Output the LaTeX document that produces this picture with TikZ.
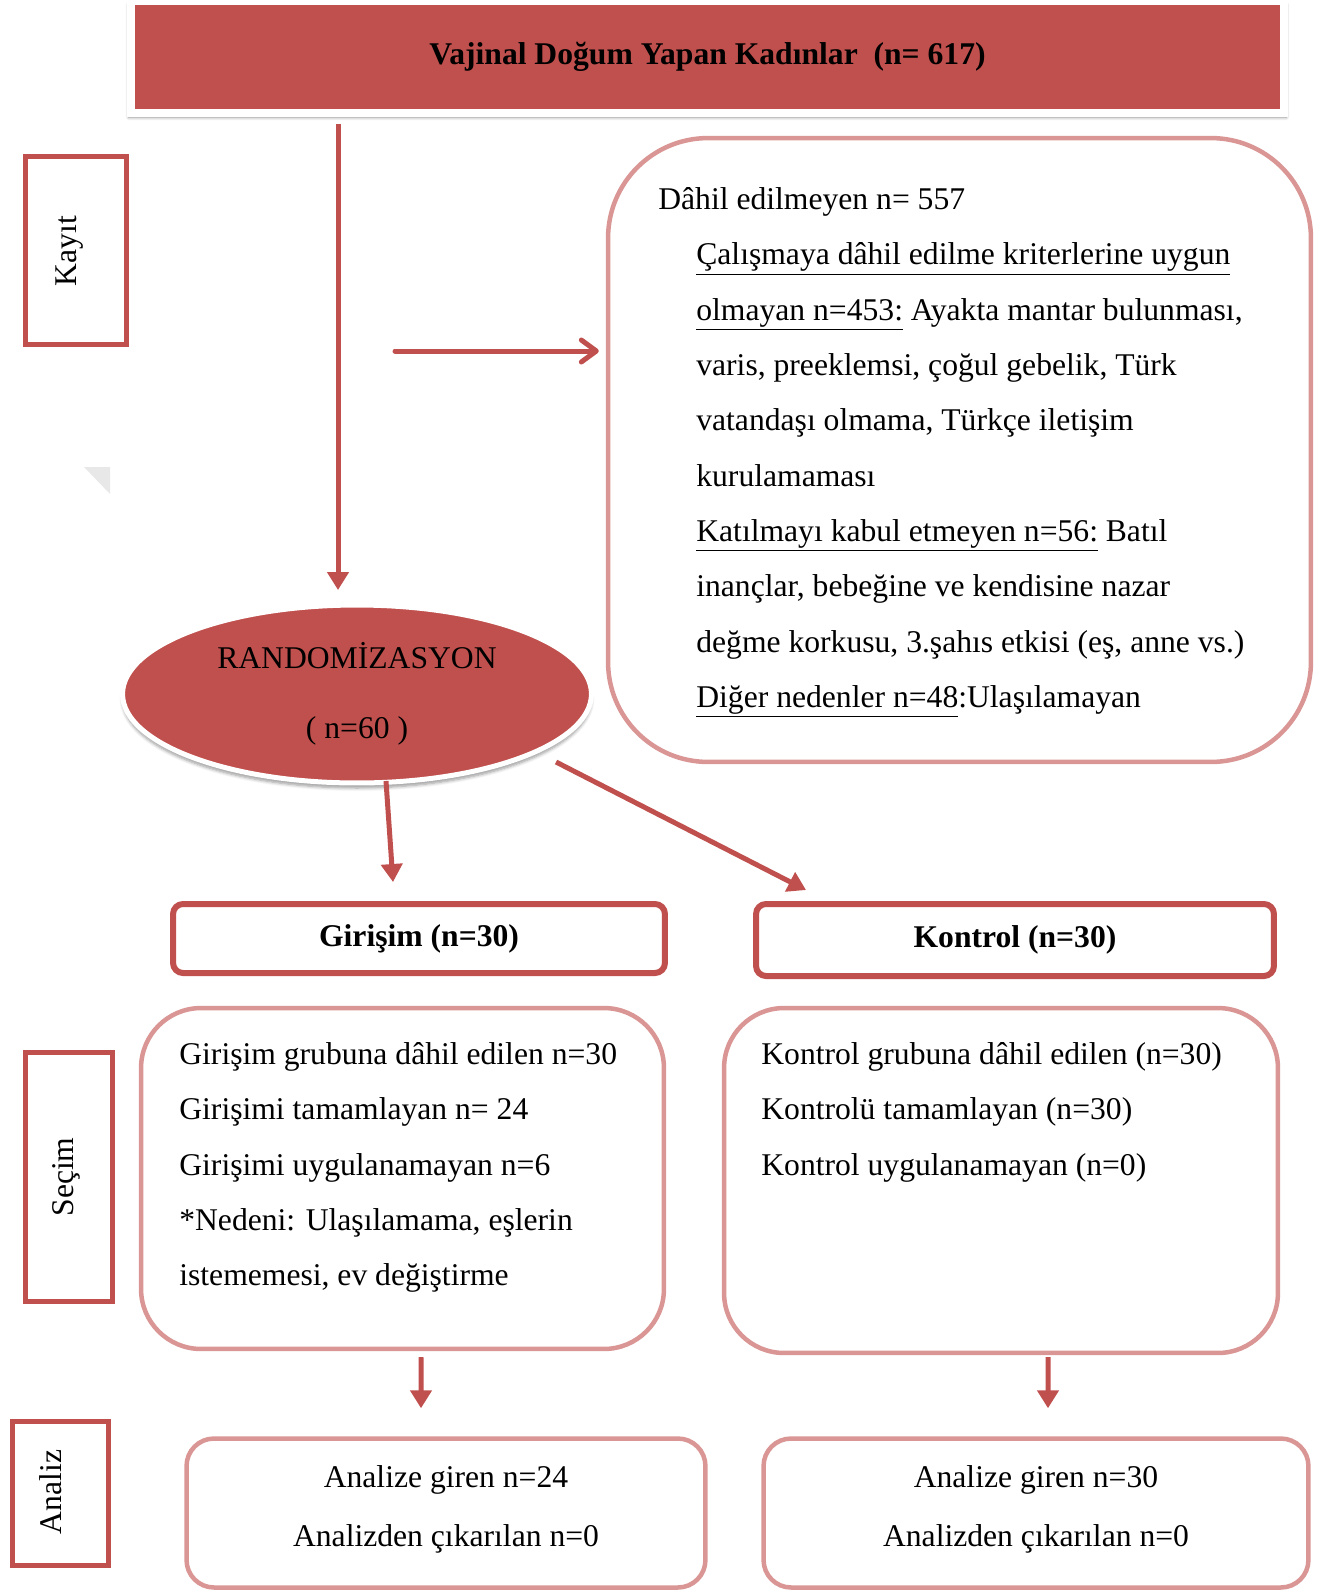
\documentclass[tikz,border=0pt]{standalone}
\usepackage{fontspec}
\setmainfont{Liberation Serif}
\usepackage{xcolor}
\usetikzlibrary{arrows.meta,shapes.geometric,shadows.blur}
\definecolor{accred}{HTML}{C0504D}
\definecolor{accpink}{HTML}{D99694}
\tikzset{
	txt/.style={font=\fontsize{18}{31.5}\selectfont},
	sidebox/.style={draw=accred, line width=0.1cm, inner sep=0pt},
	groupbox/.style={draw=accred, line width=0.12cm, rounded corners=0.2cm, inner sep=0pt, txt, font=\fontsize{18}{31.5}\selectfont\bfseries},
	infobox/.style={draw=accpink, line width=0.09cm, inner sep=0pt},
	arr/.style={draw=accred, line width=0.1cm, -{Triangle[width=0.42cm,length=0.36cm]}},
	openarr/.style={draw=accred, line width=0.1cm, line cap=round, -{Straight Barb[width=0.44cm,length=0.3cm,round]}}
}

\begin{document}
\begin{tikzpicture}[x=0.02cm, y=-0.02cm]
			\useasboundingbox (0,0) rectangle (1320,1593);
			\fill[gray!18] (84,467) -- (110,467) -- (110,494) -- cycle;

			% kayit
			\node[fill=accred, draw=white, line width=0.16cm, minimum width=23.06cm, minimum height=2.24cm, inner sep=0pt,
				blur shadow={shadow xshift=0pt, shadow yshift=-0.08cm, shadow scale=1.004, shadow opacity=45, shadow blur steps=6}, txt, font=\fontsize{18}{22}\selectfont\bfseries]
				(title) at (707.5,57) {Vajinal Doğum Yapan Kadınlar~~(n= 617)};
			\node[sidebox, minimum width=2.02cm, minimum height=3.76cm] (kayit) at (76,250.5) {};
			\node[txt, rotate=90] (kayittxt) at (70,251) {Kayıt};
			\node[infobox, rounded corners=2cm, minimum width=14.06cm, minimum height=12.48cm] (excl) at (959.5,450) {};
			\node[txt, anchor=north west, align=left, inner sep=0pt] (excltxt) at (658,187) {Dâhil edilmeyen n= 557\\
				\hspace*{0.76cm}\underline{Çalışmaya dâhil edilme kriterlerine uygun}\\
				\hspace*{0.76cm}\underline{olmayan n=453:} Ayakta mantar bulunması,\\
				\hspace*{0.76cm}varis, preeklemsi, çoğul gebelik, Türk\\
				\hspace*{0.76cm}vatandaşı olmama, Türkçe iletişim\\
				\hspace*{0.76cm}kurulamaması\\
				\hspace*{0.76cm}\underline{Katılmayı kabul etmeyen n=56:} Batıl\\
				\hspace*{0.76cm}inançlar, bebeğine ve kendisine nazar\\
				\hspace*{0.76cm}değme korkusu, 3.şahıs etkisi (eş, anne vs.)\\
				\hspace*{0.76cm}\underline{Diğer nedenler n=48}:Ulaşılamayan};

			\node[ellipse, fill=accred, draw=white, line width=0.1cm, minimum width=9.38cm, minimum height=3.56cm, inner sep=0pt,
				blur shadow={shadow xshift=0pt, shadow yshift=-0.1cm, shadow blur steps=6}, align=center, font=\fontsize{18}{40}\selectfont]
				(rand) at (357,694) {RANDOMİZASYON\\( n=60 )};

			\draw[arr] ([xshift=-0.38cm,yshift=-0.14cm]title.south -| rand.north) -- ([xshift=-0.38cm,yshift=0.25cm]rand.north);
			\coordinate (exclin) at (395,351);
			\draw[openarr, shorten >=0.14cm] (exclin) -- (exclin -| excl.west);

			% secim
			\node[groupbox, minimum width=9.84cm, minimum height=1.38cm] (giris) at (419,938.5) {Girişim (n=30)};
			\node[groupbox, minimum width=10.36cm, minimum height=1.44cm] (kontrol) at (1015,940) {Kontrol (n=30)};
			\draw[arr] ([xshift=0.58cm,yshift=0.09cm]rand.south) -- ([xshift=-0.52cm,yshift=0.38cm]giris.north);
			\draw[arr, shorten <=0.4cm] (rand.-18) -- ([xshift=1.06cm,yshift=0.22cm]kontrol.north west);

			\node[sidebox, minimum width=1.74cm, minimum height=4.98cm] (secim) at (69,1177) {};
			\node[txt, rotate=90] (secimtxt) at (66,1177) {Seçim};
			\node[infobox, rounded corners=1.2cm, minimum width=10.46cm, minimum height=6.82cm] (gdet) at (402.5,1178.5) {};
			\node[infobox, rounded corners=1.2cm, minimum width=11.08cm, minimum height=6.9cm] (kdet) at (1001,1180.5) {};
			\node[txt, anchor=north west, align=left, inner sep=0pt] (gdettxt) at (179,1042) {Girişim grubuna dâhil edilen n=30\\
				Girişimi tamamlayan n= 24\\
				Girişimi uygulanamayan n=6\\
				*Nedeni: Ulaşılamama, eşlerin\\
				istememesi, ev değiştirme};
			\node[txt, anchor=north west, align=left, inner sep=0pt] (kdettxt) at (761,1042) {Kontrol grubuna dâhil edilen (n=30)\\
				Kontrolü tamamlayan (n=30)\\
				Kontrol uygulanamayan (n=0)};

			% analiz
			\node[sidebox, minimum width=1.92cm, minimum height=2.88cm] (analiz) at (60.5,1493.5) {};
			\node[txt, rotate=90] (analiztxt) at (51,1492) {Analiz};
			\node[infobox, rounded corners=0.55cm, minimum width=10.38cm, minimum height=2.98cm] (ganl) at (446,1513) {};
			\node[infobox, rounded corners=0.55cm, minimum width=10.9cm, minimum height=2.98cm] (kanl) at (1036,1513) {};
			\node[align=center, font=\fontsize{18}{33.5}\selectfont] (ganltxt) at (446,1509) {Analize giren n=24\\Analizden çıkarılan n=0};
			\node[align=center, font=\fontsize{18}{33.5}\selectfont] (kanltxt) at (1036,1509) {Analize giren n=30\\Analizden çıkarılan n=0};

			\draw[arr] ([xshift=0.37cm,yshift=-0.12cm]gdet.south) -- ([xshift=-0.5cm,yshift=0.56cm]ganl.north);
			\draw[arr] ([xshift=0.94cm,yshift=-0.04cm]kdet.south) -- ([xshift=0.24cm,yshift=0.56cm]kanl.north);
		\end{tikzpicture}
\end{document}
